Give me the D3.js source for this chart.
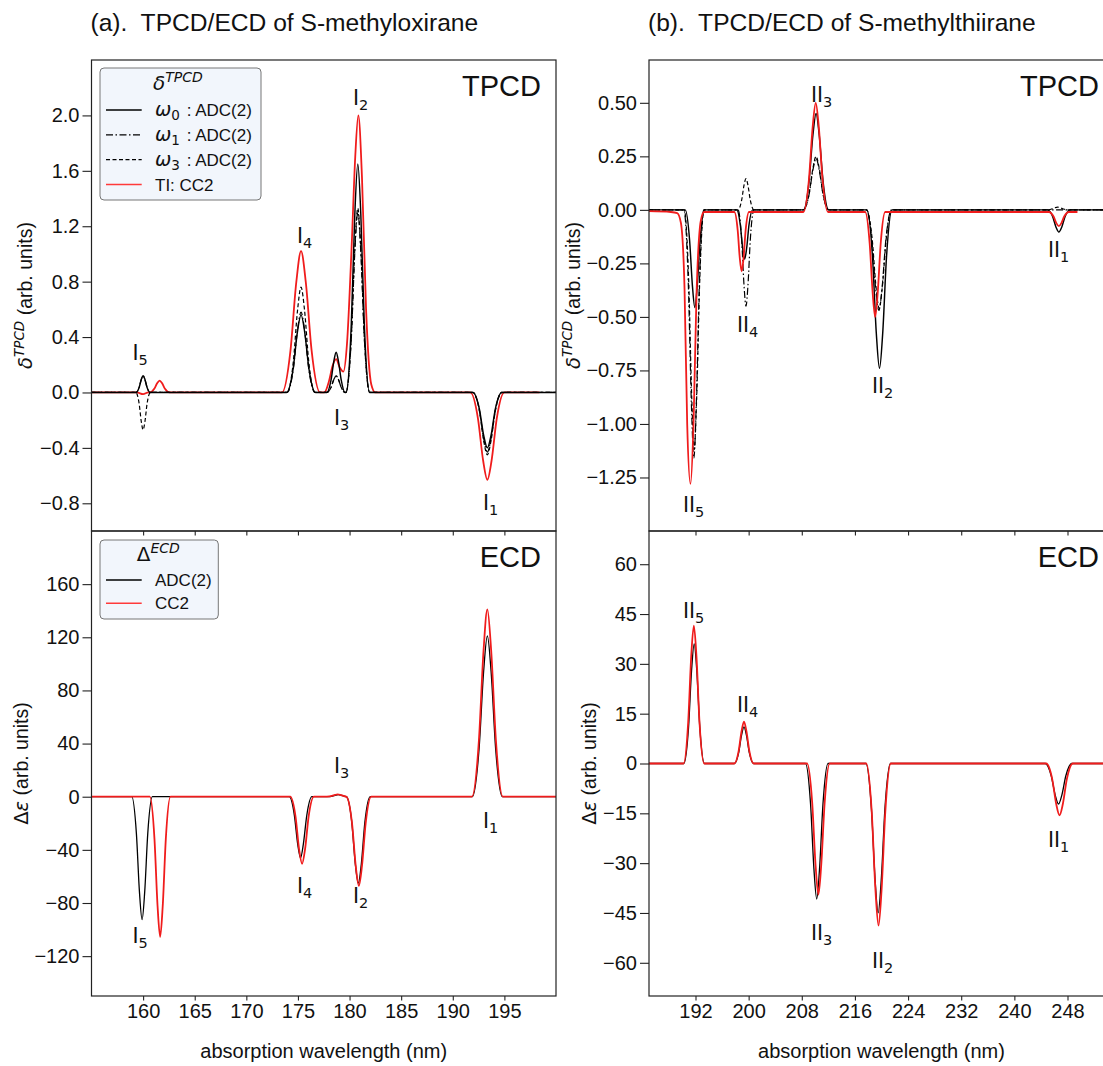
<!DOCTYPE html>
<html>
<head>
<meta charset="utf-8">
<script src="https://cdn.jsdelivr.net/npm/d3@7"></script>
<style>
  body { margin: 0; background: #fff; }
  svg text { fill: #111; }
</style>
</head>
<body>
<script>
// ---------- spectra: [wavelength (nm), value] ----------
// S-methyloxirane, TPCD (delta^TPCD, arb. units)
const oxTpcdW0 = [[155,0],[159.3,0],[159.615,0.036],[159.825,0.094],[160,0.12],[160.175,0.094],[160.385,0.036],[160.7,0],[173.9,0],[174.53,0.168],[174.95,0.437],[175.3,0.56],[175.65,0.437],[176.07,0.168],[176.7,0],[177.8,0],[178.2,0.087],[178.48,0.226],[178.7,0.29],[178.92,0.226],[179.2,0.087],[179.55,0],[179.65,0],[180.17,0.495],[180.51,1.287],[180.8,1.65],[181.09,1.287],[181.43,0.495],[181.95,0],[191.95,0],[192.58,-0.12],[193.0,-0.312],[193.35,-0.40],[193.7,-0.312],[194.12,-0.12],[194.75,0],[200,0]];
const oxTpcdW1 = [[155,0],[159.3,0],[159.615,0.036],[159.825,0.094],[160,0.12],[160.175,0.094],[160.385,0.036],[160.7,0],[173.95,0],[174.56,0.174],[174.96,0.452],[175.3,0.58],[175.64,0.452],[176.04,0.174],[176.65,0],[177.8,0],[178.2,0.036],[178.48,0.094],[178.7,0.12],[178.92,0.094],[179.2,0.036],[179.55,0],[179.65,0],[180.17,0.39],[180.51,1.014],[180.8,1.30],[181.09,1.014],[181.43,0.39],[181.95,0],[191.95,0],[192.58,-0.129],[193.0,-0.335],[193.35,-0.43],[193.7,-0.335],[194.12,-0.129],[194.75,0],[200,0]];
const oxTpcdW3 = [[155,0],[159.3,0],[159.615,-0.081],[159.825,-0.211],[160,-0.27],[160.175,-0.211],[160.385,-0.081],[160.7,0],[173.95,0],[174.56,0.228],[174.96,0.593],[175.3,0.76],[175.64,0.593],[176.04,0.228],[176.65,0],[177.8,0],[178.2,0.036],[178.48,0.094],[178.7,0.12],[178.92,0.094],[179.2,0.036],[179.55,0],[179.65,0],[180.17,0.399],[180.51,1.037],[180.8,1.33],[181.09,1.037],[181.43,0.399],[181.95,0],[191.95,0],[192.58,-0.135],[193.0,-0.351],[193.35,-0.45],[193.7,-0.351],[194.12,-0.135],[194.75,0],[200,0]];
const oxTpcdCC2 = [[155,0],[159.4,0],[160.0,-0.012],[160.5,0],[160.65,0],[161.08,0.026],[161.36,0.066],[161.6,0.085],[161.84,0.066],[162.12,0.026],[162.55,0],[173.45,0],[174.28,0.306],[174.84,0.796],[175.3,1.02],[175.76,0.796],[176.32,0.306],[177.15,0],[177.55,0],[178.0,0.08],[178.35,0.19],[178.7,0.24],[179.05,0.18],[179.4,0.15],[179.75,0.35],[180.2,1.05],[180.55,1.7],[180.85,2.0],[181.2,1.56],[181.6,0.6],[182.1,0.06],[182.5,0],[191.7,0],[192.44,-0.189],[192.94,-0.491],[193.35,-0.63],[193.76,-0.491],[194.26,-0.189],[195.0,0],[198.4,0]];

// S-methylthiirane, TPCD
const thTpcdW0 = [[185,0],[190.45,0],[191.1,-0.137],[191.54,-0.356],[191.9,-0.456],[192.26,-0.356],[192.7,-0.137],[193.35,0],[198.2,0],[198.74,-0.069],[199.1,-0.179],[199.4,-0.23],[199.7,-0.179],[200.06,-0.069],[200.6,0],[208.25,0],[209.1,0.135],[209.68,0.351],[210.15,0.45],[210.62,0.351],[211.2,0.135],[212.05,0],[217.8,0],[218.65,-0.222],[219.22,-0.577],[219.7,-0.74],[220.18,-0.577],[220.75,-0.222],[221.6,0],[245.0,0],[245.76,-0.031],[246.27,-0.081],[246.7,-0.104],[247.13,-0.081],[247.64,-0.031],[248.4,0],[255,0]];
const thTpcdW1 = [[185,0],[190.25,0],[190.92,-0.348],[191.38,-0.905],[191.75,-1.16],[192.12,-0.905],[192.58,-0.348],[193.25,0],[198.4,0],[198.94,-0.135],[199.3,-0.351],[199.6,-0.45],[199.9,-0.351],[200.26,-0.135],[200.8,0],[208.25,0],[209.1,0.072],[209.68,0.187],[210.15,0.24],[210.62,0.187],[211.2,0.072],[212.05,0],[217.7,0],[218.55,-0.141],[219.12,-0.367],[219.6,-0.47],[220.08,-0.367],[220.65,-0.141],[221.5,0],[255,0]];
const thTpcdW3 = [[185,0],[190.3,0],[190.98,-0.336],[191.43,-0.874],[191.8,-1.12],[192.18,-0.874],[192.63,-0.336],[193.3,0],[198.4,0],[198.94,0.044],[199.3,0.114],[199.6,0.146],[199.9,0.114],[200.26,0.044],[200.8,0],[208.25,0],[209.1,0.075],[209.68,0.195],[210.15,0.25],[210.62,0.195],[211.2,0.075],[212.05,0],[217.75,0],[218.6,-0.138],[219.17,-0.359],[219.65,-0.46],[220.13,-0.359],[220.7,-0.138],[221.55,0],[244.9,0],[245.62,0.004],[246.1,0.01],[246.5,0.013],[246.9,0.01],[247.38,0.004],[248.1,0],[255,0]];
const thTpcdCC2 = [[185,-0.006],[188.3,-0.01],[189.25,-0.015],[189.8,-0.06],[190.35,-0.37],[190.75,-1.0],[191.25,-1.28],[191.7,-1.0],[192.15,-0.40],[192.8,-0.05],[193.3,-0.01],[197.85,-0.01],[198.35,-0.095],[198.67,-0.226],[198.95,-0.287],[199.23,-0.226],[199.55,-0.095],[200.05,-0.01],[208.25,-0.01],[209.08,0.143],[209.64,0.388],[210.1,0.50],[210.56,0.388],[211.12,0.143],[211.95,-0.01],[217.55,-0.01],[218.22,-0.157],[218.68,-0.392],[219.05,-0.50],[219.42,-0.392],[219.88,-0.157],[220.55,-0.01],[245.2,-0.01],[245.88,-0.03],[246.32,-0.062],[246.7,-0.076],[247.08,-0.062],[247.52,-0.03],[248.2,-0.01],[249.5,-0.01]];

// S-methyloxirane, ECD (delta epsilon, arb. units)
const oxEcdADC = [[155,0],[158.9,0],[159.35,-27.8],[159.65,-72.2],[159.9,-92.5],[160.15,-72.2],[160.45,-27.8],[160.9,0],[174.15,0],[174.65,-13.8],[174.98,-35.9],[175.25,-46],[175.52,-35.9],[175.86,-13.8],[176.35,0],[177.9,0],[178.35,0.45],[178.65,1.17],[178.9,1.5],[179.15,1.17],[179.45,0.45],[179.7,0],[180.22,-19.5],[180.56,-50.7],[180.85,-65],[181.14,-50.7],[181.48,-19.5],[182.0,0],[191.9,0],[192.55,36.3],[192.99,94.4],[193.35,121],[193.71,94.4],[194.15,36.3],[194.8,0],[200,0]];
const oxEcdCC2 = [[155,0],[160.65,0],[161.1,-31.7],[161.4,-82.3],[161.65,-105.5],[161.9,-82.3],[162.2,-31.7],[162.65,0],[174.25,0],[174.77,-15.2],[175.11,-39.4],[175.4,-50.5],[175.69,-39.4],[176.03,-15.2],[176.55,0],[177.8,0],[178.3,0.55],[178.6,1.4],[178.85,1.8],[179.1,1.4],[179.4,0.55],[179.7,0],[180.24,-20.1],[180.6,-52.3],[180.9,-67],[181.2,-52.3],[181.56,-20.1],[182.1,0],[191.85,0],[192.53,42.3],[192.98,110],[193.35,141],[193.72,110],[194.18,42.3],[194.85,0],[200,0]];

// S-methylthiirane, ECD
const thEcdADC = [[185,0],[190.25,0],[190.95,10.8],[191.41,28.1],[191.8,36],[192.19,28.1],[192.65,10.8],[193.35,0],[197.85,0],[198.5,3.3],[198.94,8.6],[199.3,11],[199.66,8.6],[200.1,3.3],[200.75,0],[208.55,0],[209.32,-12.2],[209.83,-31.8],[210.25,-40.8],[210.67,-31.8],[211.19,-12.2],[211.95,0],[217.65,0],[218.48,-13.5],[219.04,-35.1],[219.5,-45],[219.96,-35.1],[220.52,-13.5],[221.35,0],[244.65,0],[245.55,-3.7],[246.15,-9.5],[246.65,-12.2],[247.15,-9.5],[247.75,-3.7],[248.65,0],[255,0]];
const thEcdCC2 = [[185,0],[190.2,0],[190.9,12.5],[191.36,32.4],[191.75,41.5],[192.14,32.4],[192.6,12.5],[193.3,0],[197.85,0],[198.5,3.8],[198.94,9.8],[199.3,12.6],[199.66,9.8],[200.1,3.8],[200.75,0],[208.8,0],[209.57,-11.9],[210.08,-30.8],[210.5,-39.5],[210.92,-30.8],[211.44,-11.9],[212.2,0],[217.7,0],[218.53,-14.6],[219.09,-38.1],[219.55,-48.8],[220.01,-38.1],[220.57,-14.6],[221.4,0],[244.8,0],[245.7,-4.7],[246.3,-12.2],[246.8,-15.6],[247.3,-12.2],[247.9,-4.7],[248.8,0],[255,0]];

// ---------- band labels: [name, subscript, wavelength, value] ----------
const oxTpcdLabels = [["I","5",158.97,0.234],["I","4",174.91,1.079],["I","3",178.49,-0.235],["I","2",180.33,2.075],["I","1",192.93,-0.848]];
const thTpcdLabels = [["II","5",190.12,-1.41],["II","4",198.25,-0.569],["II","3",209.39,0.505],["II","2",218.57,-0.857],["II","1",245.06,-0.219]];
const oxEcdLabels  = [["I","5",158.97,-110.3],["I","4",174.91,-72.7],["I","3",178.49,18.1],["I","2",180.33,-79.8],["I","1",192.93,-23.8]];
const thEcdLabels  = [["II","5",190.12,43.7],["II","4",198.25,15.6],["II","3",209.39,-53.1],["II","2",218.57,-61.7],["II","1",245.06,-25.0]];

// ---------- axis domains and ticks ----------
const oxWaveDomain = [155, 200];
const thWaveDomain = [185, 255];
const oxWaveTicks = [160, 165, 170, 175, 180, 185, 190, 195];
const thWaveTicks = [192, 200, 208, 216, 224, 232, 240, 248];
const oxTpcdDomain = [-1.0, 2.4];
const thTpcdDomain = [-1.5, 0.7];
const oxEcdDomain = [-150, 200];
const thEcdDomain = [-70, 70];
const oxTpcdTicks = [-0.8, -0.4, 0.0, 0.4, 0.8, 1.2, 1.6, 2.0];
const thTpcdTicks = [-1.25, -1.0, -0.75, -0.5, -0.25, 0.0, 0.25, 0.5];
const oxEcdTicks = [-120, -80, -40, 0, 40, 80, 120, 160];
const thEcdTicks = [-60, -45, -30, -15, 0, 15, 30, 45, 60];

const titles = ["(a).\u00a0 TPCD/ECD of S-methyloxirane", "(b).\u00a0 TPCD/ECD of S-methylthiirane"];
const xAxisTitle = "absorption wavelength (nm)";

// ---------- page ----------
const W = 1103, H = 1066;
const FONT = "'Liberation Sans', Arial, Helvetica, sans-serif";
const MATH = "'DejaVu Sans', sans-serif";

const svg = d3.select("body").append("svg")
  .attr("width", W).attr("height", H)
  .attr("viewBox", `0 0 ${W} ${H}`);

const cols = { a: { x0: 91.5, x1: 556 }, b: { x0: 649, x1: 1114 } };
const rows = { top: { y0: 60, y1: 531 }, bottom: { y0: 531, y1: 996 } };

const style = {
  w0:  { stroke: "#000", width: 1.45, dash: null },
  w1:  { stroke: "#000", width: 1.2, dash: "7,2.5,1.5,2.5" },
  w3:  { stroke: "#000", width: 1.2, dash: "4,2.5" },
  adc: { stroke: "#000", width: 1.3, dash: null },
  cc2: { stroke: "#f01c1c", width: 1.8, dash: null }
};

const panels = [
  { id: "oxT", col: "a", row: "top", xDom: oxWaveDomain, yDom: oxTpcdDomain, xTicks: oxWaveTicks, yTicks: oxTpcdTicks, yFmt: ".1f",
    series: [[oxTpcdCC2, "cc2"], [oxTpcdW3, "w3"], [oxTpcdW1, "w1"], [oxTpcdW0, "w0"]], labels: oxTpcdLabels, tag: "TPCD", kind: "tpcd" },
  { id: "oxE", col: "a", row: "bottom", xDom: oxWaveDomain, yDom: oxEcdDomain, xTicks: oxWaveTicks, yTicks: oxEcdTicks, yFmt: "d",
    series: [[oxEcdADC, "adc"], [oxEcdCC2, "cc2"]], labels: oxEcdLabels, tag: "ECD", kind: "ecd" },
  { id: "thT", col: "b", row: "top", xDom: thWaveDomain, yDom: thTpcdDomain, xTicks: thWaveTicks, yTicks: thTpcdTicks, yFmt: ".2f",
    series: [[thTpcdW3, "w3"], [thTpcdW1, "w1"], [thTpcdW0, "w0"], [thTpcdCC2, "cc2"]], labels: thTpcdLabels, tag: "TPCD", kind: "tpcd" },
  { id: "thE", col: "b", row: "bottom", xDom: thWaveDomain, yDom: thEcdDomain, xTicks: thWaveTicks, yTicks: thEcdTicks, yFmt: "d",
    series: [[thEcdADC, "adc"], [thEcdCC2, "cc2"]], labels: thEcdLabels, tag: "ECD", kind: "ecd" }
];

// y-axis title offsets (distance of the text baseline left of the frame)
const yTitleGap = { oxT: 60, oxE: 63.5, thT: 69, thE: 53 };

panels.forEach(p => {
  const c = cols[p.col], r = rows[p.row];
  const x = d3.scaleLinear().domain(p.xDom).range([c.x0, c.x1]);
  const y = d3.scaleLinear().domain(p.yDom).range([r.y1, r.y0]);
  const g = svg.append("g");

  // clip region for the curves
  const clipId = "clip-" + p.id;
  svg.append("clipPath").attr("id", clipId).append("rect")
    .attr("x", c.x0).attr("y", r.y0).attr("width", c.x1 - c.x0).attr("height", r.y1 - r.y0);

  const line = d3.line().x(d => x(d[0])).y(d => y(d[1])).curve(d3.curveMonotoneX);
  const curves = g.append("g").attr("clip-path", `url(#${clipId})`);
  p.series.forEach(([data, key]) => {
    const s = style[key];
    curves.append("path").datum(data)
      .attr("d", line)
      .attr("fill", "none")
      .attr("stroke", s.stroke)
      .attr("stroke-width", s.width)
      .attr("stroke-dasharray", s.dash)
      .attr("stroke-linejoin", "round");
  });

  // y axis
  const ya = g.append("g").attr("transform", `translate(${c.x0},0)`)
    .call(d3.axisLeft(y).tickValues(p.yTicks).tickFormat(d3.format(p.yFmt)).tickSize(9).tickPadding(3));
  ya.select(".domain").remove();
  ya.selectAll("line").attr("stroke", "#222").attr("stroke-width", 1.1);
  ya.selectAll("text").attr("font-family", FONT).attr("font-size", 20).attr("fill", "#111");

  // x axis (labels only on the lower panel)
  const xa = g.append("g").attr("transform", `translate(0,${r.y1})`)
    .call(d3.axisBottom(x).tickValues(p.xTicks).tickSize(4.5).tickPadding(3)
      .tickFormat(p.row === "bottom" ? d3.format("d") : ""));
  xa.select(".domain").remove();
  xa.selectAll("line").attr("stroke", "#222").attr("stroke-width", 1.1);
  xa.selectAll("text").attr("font-family", FONT).attr("font-size", 20).attr("fill", "#111");

  // frame
  g.append("rect").attr("x", c.x0).attr("y", r.y0)
    .attr("width", c.x1 - c.x0).attr("height", r.y1 - r.y0)
    .attr("fill", "none").attr("stroke", "#222").attr("stroke-width", 1.2);

  // panel tag
  g.append("text").attr("x", c.x1 - 15).attr("y", r.y0 + 36)
    .attr("text-anchor", "end").attr("font-family", FONT).attr("font-size", 29).text(p.tag);

  // band labels
  p.labels.forEach(([nm, sub, wl, v]) => {
    const t = g.append("text").attr("x", x(wl)).attr("y", y(v))
      .attr("font-family", MATH).attr("font-size", 20.5);
    t.append("tspan").text(nm);
    t.append("tspan").attr("font-size", 14.5).attr("dy", 5).text(sub);
  });

  // y-axis title
  const ty = g.append("text")
    .attr("transform", `translate(${c.x0 - yTitleGap[p.id]},${(r.y0 + r.y1) / 2}) rotate(-90)`)
    .attr("text-anchor", "middle").attr("font-family", FONT).attr("font-size", 19.5);
  if (p.kind === "tpcd") {
    ty.append("tspan").attr("font-family", MATH).attr("font-style", "italic").text("δ");
    ty.append("tspan").attr("font-family", MATH).attr("font-style", "italic").attr("font-size", 13.5).attr("dy", -8).text("TPCD");
    ty.append("tspan").attr("dy", 8).text(" (arb. units)");
  } else {
    ty.append("tspan").attr("font-family", MATH).text("Δ");
    ty.append("tspan").attr("font-family", MATH).attr("font-style", "italic").text("ε");
    ty.append("tspan").text(" (arb. units)");
  }

  // x-axis title
  if (p.row === "bottom") {
    g.append("text").attr("x", (c.x0 + c.x1) / 2).attr("y", 1058)
      .attr("text-anchor", "middle").attr("font-family", FONT).attr("font-size", 20).text(xAxisTitle);
  }
});

// column titles
svg.append("text").attr("x", cols.a.x0 - 1).attr("y", 31)
  .attr("font-family", FONT).attr("font-size", 24.6).text(titles[0]);
svg.append("text").attr("x", cols.b.x0 - 1).attr("y", 31)
  .attr("font-family", FONT).attr("font-size", 24.6).text(titles[1]);

// ---------- legends ----------
function legendBox(x, yTop, w, h) {
  svg.append("rect").attr("x", x).attr("y", yTop).attr("width", w).attr("height", h)
    .attr("rx", 4).attr("fill", "#f2f6fc").attr("stroke", "#777").attr("stroke-width", 1);
}
function sample(y0, key) {
  const s = style[key];
  svg.append("line").attr("x1", 106).attr("x2", 141.7).attr("y1", y0).attr("y2", y0)
    .attr("stroke", key === "cc2" ? "#ff3a3a" : s.stroke).attr("stroke-width", key === "cc2" ? 1.5 : 1.3)
    .attr("stroke-dasharray", s.dash);
}

// TPCD legend
legendBox(100, 68, 161, 132);
{
  const t = svg.append("text").attr("x", 153).attr("y", 89.5).attr("font-family", MATH).attr("font-style", "italic");
  t.append("tspan").attr("font-size", 20).text("δ");
  t.append("tspan").attr("font-size", 14).attr("dy", -7.5).text("TPCD");
}
const tpcdLegend = [["w0", "0"], ["w1", "1"], ["w3", "3"]];
tpcdLegend.forEach(([key, sub], i) => {
  const ry = 110 + i * 24.8;
  sample(ry, key);
  const t = svg.append("text").attr("x", 155).attr("y", ry + 6).attr("font-family", MATH);
  t.append("tspan").attr("font-style", "italic").attr("font-size", 19.5).text("ω");
  t.append("tspan").attr("font-size", 13.5).attr("dy", 4).text(sub);
  svg.append("text").attr("x", 186.7).attr("y", ry + 6).attr("font-family", FONT).attr("font-size", 17).text(": ADC(2)");
});
sample(184.5, "cc2");
svg.append("text").attr("x", 155).attr("y", 190.5).attr("font-family", FONT).attr("font-size", 17).text("TI: CC2");

// ECD legend
legendBox(100, 540, 118.3, 79);
{
  const t = svg.append("text").attr("x", 136.7).attr("y", 560.5).attr("font-family", MATH);
  t.append("tspan").attr("font-size", 20).text("Δ");
  t.append("tspan").attr("font-size", 14).attr("font-style", "italic").attr("dy", -7.5).text("ECD");
}
sample(580, "adc");
svg.append("text").attr("x", 155).attr("y", 586).attr("font-family", FONT).attr("font-size", 17).text("ADC(2)");
sample(603.3, "cc2");
svg.append("text").attr("x", 155).attr("y", 609.3).attr("font-family", FONT).attr("font-size", 17).text("CC2");
</script>
</body>
</html>
